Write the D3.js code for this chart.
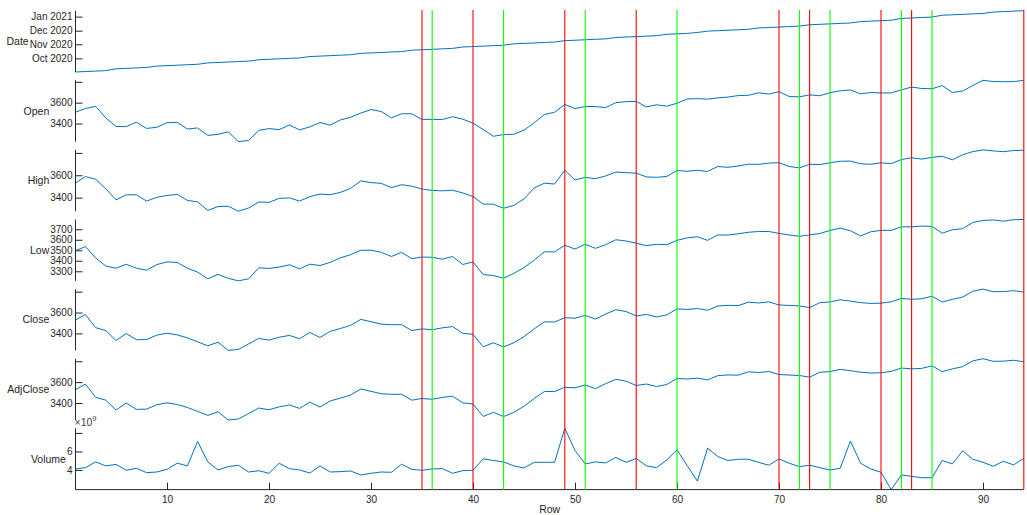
<!DOCTYPE html>
<html><head><meta charset="utf-8">
<script src="https://cdn.jsdelivr.net/npm/d3@7"></script>
<style>
body{margin:0;background:#fff}
svg{display:block;font-family:"Liberation Sans",Arial,Helvetica,sans-serif}
</style>
</head><body><svg id="c" width="1027" height="515"></svg>
<script>
// ---------------- data ----------------
const dates = [
"2020-09-01","2020-09-02","2020-09-03","2020-09-04","2020-09-08","2020-09-09","2020-09-10","2020-09-11","2020-09-14","2020-09-15",
"2020-09-16","2020-09-17","2020-09-18","2020-09-21","2020-09-22","2020-09-23","2020-09-24","2020-09-25","2020-09-28","2020-09-29",
"2020-09-30","2020-10-01","2020-10-02","2020-10-05","2020-10-06","2020-10-07","2020-10-08","2020-10-09","2020-10-12","2020-10-13",
"2020-10-14","2020-10-15","2020-10-16","2020-10-19","2020-10-20","2020-10-21","2020-10-22","2020-10-23","2020-10-26","2020-10-27",
"2020-10-28","2020-10-29","2020-10-30","2020-11-02","2020-11-03","2020-11-04","2020-11-05","2020-11-06","2020-11-09","2020-11-10",
"2020-11-11","2020-11-12","2020-11-13","2020-11-16","2020-11-17","2020-11-18","2020-11-19","2020-11-20","2020-11-23","2020-11-24",
"2020-11-25","2020-11-27","2020-11-30","2020-12-01","2020-12-02","2020-12-03","2020-12-04","2020-12-07","2020-12-08","2020-12-09",
"2020-12-10","2020-12-11","2020-12-14","2020-12-15","2020-12-16","2020-12-17","2020-12-18","2020-12-21","2020-12-22","2020-12-23",
"2020-12-24","2020-12-28","2020-12-29","2020-12-30","2020-12-31","2021-01-04","2021-01-05","2021-01-06","2021-01-07","2021-01-08",
"2021-01-11","2021-01-12","2021-01-13","2021-01-14"];

const open = [3507.44,3543.76,3564.74,3453.60,3371.88,3369.82,3412.56,3352.70,3363.56,3407.73,
3411.23,3346.86,3357.38,3285.57,3295.75,3320.11,3226.14,3236.66,3333.90,3350.92,
3341.21,3385.87,3338.94,3367.27,3408.74,3384.56,3434.28,3459.67,3500.02,3534.01,
3515.47,3453.72,3493.50,3493.66,3439.38,3439.91,3438.50,3464.90,3441.42,3403.15,
3342.48,3277.17,3293.59,3296.20,3336.25,3406.46,3485.74,3508.34,3583.04,3543.26,
3563.22,3562.67,3552.57,3600.16,3610.31,3612.09,3559.41,3579.31,3566.82,3594.52,
3635.50,3638.55,3634.18,3645.87,3653.78,3668.28,3670.94,3694.73,3683.05,3705.98,
3659.13,3656.08,3675.27,3666.41,3696.25,3713.65,3722.39,3684.28,3698.08,3693.42,
3694.03,3723.03,3750.01,3736.19,3733.27,3764.61,3698.02,3712.20,3764.71,3815.05,
3803.14,3801.62,3802.23,3814.98];

const high = [3528.03,3588.11,3564.85,3479.15,3379.97,3424.77,3425.55,3368.95,3402.93,3419.48,
3428.92,3375.17,3362.27,3285.57,3320.31,3323.35,3278.70,3306.88,3360.74,3357.92,
3393.56,3397.18,3369.10,3409.57,3431.56,3426.26,3447.28,3482.34,3549.85,3534.01,
3527.94,3489.08,3515.76,3502.42,3476.93,3464.86,3460.53,3466.46,3441.42,3409.51,
3342.48,3341.05,3304.93,3330.14,3389.49,3486.25,3529.05,3521.58,3645.99,3557.22,
3581.16,3569.02,3593.66,3628.51,3623.11,3619.09,3585.22,3581.23,3589.81,3642.31,
3635.50,3644.31,3634.18,3678.45,3670.96,3682.73,3699.20,3697.41,3708.45,3712.39,
3678.49,3665.91,3697.61,3695.29,3711.27,3725.12,3726.70,3702.90,3698.26,3711.24,
3703.82,3740.51,3756.12,3744.63,3760.20,3769.99,3737.83,3783.04,3811.55,3826.69,
3817.86,3810.78,3820.96,3823.60];

const low = [3494.60,3535.23,3427.41,3349.63,3329.27,3366.84,3329.25,3310.47,3363.56,3389.25,
3384.45,3328.82,3292.40,3229.10,3270.95,3232.57,3209.45,3228.44,3332.91,3327.54,
3340.47,3361.39,3323.69,3367.27,3354.54,3384.56,3428.15,3458.07,3499.61,3500.86,
3480.55,3440.89,3480.45,3419.93,3435.65,3433.06,3415.34,3440.45,3364.86,3388.71,
3268.89,3259.82,3233.94,3279.74,3336.25,3405.17,3485.74,3484.34,3547.48,3511.91,
3557.00,3518.58,3552.57,3600.16,3588.68,3567.33,3543.84,3556.85,3552.77,3594.52,
3617.76,3629.33,3594.39,3645.87,3644.84,3657.17,3670.94,3678.88,3678.83,3660.54,
3645.18,3633.40,3645.84,3659.62,3688.57,3710.87,3685.84,3636.48,3676.16,3689.28,
3689.32,3723.03,3723.31,3730.21,3726.88,3662.71,3695.07,3705.34,3764.71,3783.60,
3789.02,3776.51,3791.50,3792.86];

const close = [3526.65,3580.84,3455.06,3426.96,3331.84,3398.96,3339.19,3340.97,3383.54,3401.20,
3385.49,3357.01,3319.47,3281.06,3315.57,3236.92,3246.59,3298.46,3351.60,3335.47,
3363.00,3380.80,3348.42,3408.60,3360.97,3419.44,3446.83,3477.14,3534.22,3511.93,
3488.67,3483.34,3483.81,3426.92,3443.12,3435.56,3453.49,3465.39,3400.97,3390.68,
3271.03,3310.11,3269.96,3310.24,3369.16,3443.44,3510.45,3509.44,3550.50,3545.53,
3572.66,3537.01,3585.15,3626.91,3609.53,3567.79,3581.87,3557.54,3577.59,3635.41,
3629.65,3638.35,3621.63,3662.45,3669.01,3666.72,3699.12,3691.96,3702.25,3672.82,
3668.10,3663.46,3647.49,3694.62,3701.17,3722.48,3709.41,3694.92,3687.26,3690.01,
3703.06,3735.36,3727.04,3732.04,3756.07,3700.65,3726.86,3748.14,3803.79,3824.68,
3799.61,3801.19,3809.84,3795.54];

const adjClose = close.slice();

const volume = [4.10e9,4.25e9,4.87e9,4.44e9,4.60e9,3.97e9,4.18e9,3.71e9,3.78e9,4.07e9,
4.73e9,4.44e9,7.08e9,4.87e9,4.00e9,4.36e9,4.51e9,3.78e9,3.92e9,3.64e9,
4.73e9,4.14e9,4.00e9,3.67e9,4.44e9,3.78e9,3.82e9,3.89e9,3.46e9,3.64e9,
3.78e9,3.75e9,4.62e9,4.07e9,3.96e9,4.11e9,4.14e9,3.64e9,3.93e9,3.96e9,
5.20e9,5.02e9,4.87e9,4.44e9,4.22e9,4.83e9,4.83e9,4.83e9,8.50e9,6.10e9,
4.65e9,4.87e9,4.76e9,5.35e9,4.83e9,5.24e9,4.44e9,4.25e9,5.09e9,6.18e9,
4.47e9,2.80e9,6.36e9,5.45e9,5.02e9,5.16e9,5.16e9,4.83e9,4.51e9,5.20e9,
4.73e9,4.36e9,4.51e9,4.25e9,4.00e9,4.18e9,7.12e9,4.73e9,4.11e9,3.75e9,
1.88e9,3.46e9,3.31e9,3.16e9,3.16e9,5.02e9,4.65e9,6.07e9,5.16e9,4.83e9,
4.40e9,4.94e9,4.54e9,5.27e9];

const sellRows = [35,40,49,56,70,73,80,83,94];
const buyRows  = [36,43,51,60,72,75,82,85];

const xTicks = [10,20,30,40,50,60,70,80,90];
const dateTicks = ["2020-10-01","2020-11-01","2020-12-01","2021-01-01"];
const openTicks = [3400,3600,3800];
const highTicks = [3400,3600,3800];
const lowTicks = [3300,3400,3500,3600,3700];
const closeTicks = [3400,3600,3800];
const volumeTicks = [4e9,6e9,8e9];
const hiddenLabels = [3800,8e9];

// ---------------- layout ----------------
const svg = d3.select("#c");
const AX = 75.5;
const panelH = 61.3, step = 69.6, top0 = 10.7;
const n = open.length;
const rows = d3.range(1, n + 1);
const x = d3.scaleLinear().domain([1, n]).range([75.2, 1023.8]);
const axisColor = "#262626";
const lineColor = "#0072BD";
const parse = d3.utcParse("%Y-%m-%d");
const dateVals = dates.map(parse);

const panels = [
  {name:"Date", vals:dateVals, time:true, ticks:dateTicks.map(parse), fmt:d3.utcFormat("%b %Y")},
  {name:"Open", vals:open, ticks:openTicks},
  {name:"High", vals:high, ticks:highTicks},
  {name:"Low", vals:low, ticks:lowTicks},
  {name:"Close", vals:close, ticks:closeTicks},
  {name:"AdjClose", vals:adjClose, ticks:closeTicks},
  {name:"Volume", vals:volume, ticks:volumeTicks, scaleExp:1e9}
];

panels.forEach((p, i) => {
  const t = top0 + i * step, b = t + panelH;
  const y = (p.time ? d3.scaleUtc() : d3.scaleLinear())
      .domain(d3.extent(p.vals)).range([b, t]);
  const g = svg.append("g");
  g.append("path")
    .datum(rows)
    .attr("fill", "none").attr("stroke", lineColor).attr("stroke-width", 1)
    .attr("d", d3.line().x(r => x(r)).y(r => y(p.vals[r - 1])));
  const fmt = p.fmt ? p.fmt : (p.scaleExp ? (v => hiddenLabels.includes(v) ? "" : d3.format("d")(v / p.scaleExp))
                                         : (v => hiddenLabels.includes(v) ? "" : d3.format("d")(v)));
  const ax = d3.axisRight(y).tickValues(p.ticks).tickSize(7).tickSizeOuter(0).tickFormat(fmt);
  const ag = g.append("g").attr("transform", `translate(${AX},0)`).call(ax);
  ag.select(".domain").attr("stroke", axisColor).attr("d", `M0,${t}V${b}`);
  ag.selectAll(".tick line").attr("stroke", axisColor);
  ag.selectAll(".tick text").attr("x", -3).attr("text-anchor", "end")
    .attr("fill", axisColor).style("font-size", "10px");
  ag.attr("font-family", null).attr("font-size", null);
  let minX = AX;
  ag.selectAll(".tick text").each(function(){ const w = this.getComputedTextLength(); if (w > 0) minX = Math.min(minX, AX - 3 - w); });
  g.append("text").attr("x", minX - 1).attr("y", (t + b) / 2).attr("dy", "0.35em")
    .attr("text-anchor", "end").attr("fill", "#262626").style("font-size", "10.5px").text(p.name);
  if (p.scaleExp) {
    const e = g.append("text").attr("x", AX - 1).attr("y", t - 2.5).attr("fill", "#404040").style("font-size", "10.5px");
    e.append("tspan").text("\u00d710");
    e.append("tspan").attr("dy", -5).style("font-size", "7.5px").text("9");
  }
});

const bottom = top0 + 6 * step + panelH;
const xg = svg.append("g").attr("transform", `translate(0,${bottom})`)
  .call(d3.axisTop(x).tickValues(xTicks).tickSize(7).tickSizeOuter(0));
xg.select(".domain").attr("stroke", axisColor).attr("d", `M${AX},0H${x(n)}`);
xg.selectAll(".tick line").attr("stroke", axisColor);
xg.selectAll(".tick text").attr("y", 13).attr("dy", 0).attr("fill", axisColor).style("font-size", "10px");
xg.attr("font-family", null).attr("font-size", null);
svg.append("text").attr("x", (AX + x(n)) / 2).attr("y", 513).attr("text-anchor", "middle")
  .attr("fill", "#262626").style("font-size", "10.5px").text("Row");

const sig = svg.append("g");
sig.selectAll("line.sell").data(sellRows).join("line").attr("class","sell")
  .attr("x1", r => x(r)).attr("x2", r => x(r)).attr("y1", 10).attr("y2", bottom)
  .attr("stroke", "#FF0000").attr("stroke-width", 1.1);
sig.selectAll("line.buy").data(buyRows).join("line").attr("class","buy")
  .attr("x1", r => x(r)).attr("x2", r => x(r)).attr("y1", 10).attr("y2", bottom)
  .attr("stroke", "#00FF00").attr("stroke-width", 1.1);
</script>
</body></html>
